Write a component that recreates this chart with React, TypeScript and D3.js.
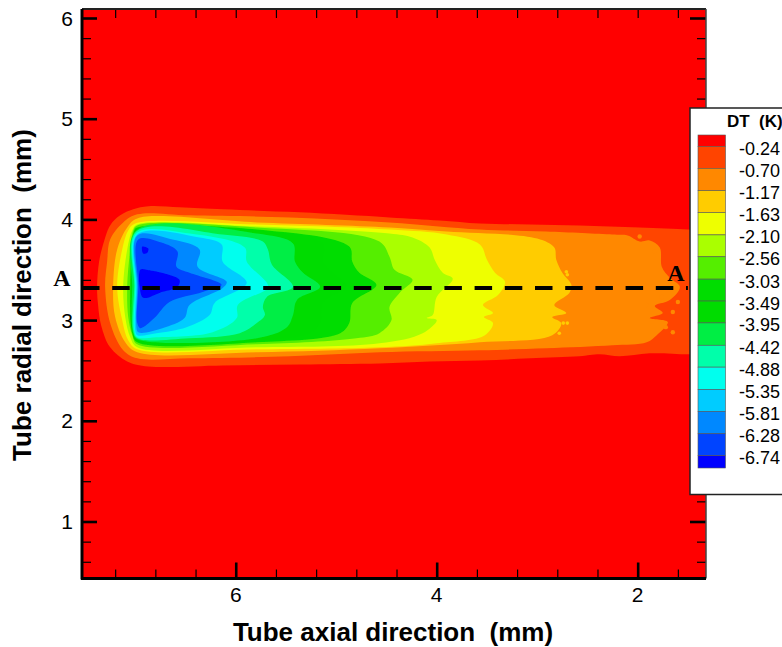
import React, { useEffect, useRef } from 'react';
import * as d3 from 'd3';

type Pt = [number, number];

const levels = [-0.24, -0.70, -1.17, -1.63, -2.10, -2.56, -3.03, -3.49, -3.95, -4.42, -4.88, -5.35, -5.81, -6.28, -6.74];
const bandColors = ['#ff0000', '#ff4400', '#ff8800', '#ffcc00', '#eeff00', '#aaff00', '#55ee00', '#00dd00', '#00dc00', '#00ee44', '#00ffaa', '#00ffee', '#00ccff', '#0088ff', '#0044ff', '#0000ff'];

const xMajor = [6, 4, 2];
const yMajor = [6, 5, 4, 3, 2, 1];
const xMinor = [7.2, 6.8, 6.4, 5.6, 5.2, 4.8, 4.4, 3.6, 3.2, 2.8, 2.4, 1.6];
const yMinor = [5.8, 5.6, 5.4, 5.2, 4.8, 4.6, 4.4, 4.2, 3.8, 3.6, 3.4, 3.2, 2.8, 2.6, 2.4, 2.2, 1.8, 1.6, 1.4, 1.2, 0.8, 0.6];

// section line A-A
const sectionY = 3.32;
const sectionX = [7.53, 1.5];

// contour outlines, [axial mm, radial mm]
const c024: Pt[] = [[7.38,3.33],[7.36,3.58],[7.32,3.75],[7.25,3.94],[7.15,4.04],[7.02,4.10],[6.87,4.13],[6.56,4.12],[6.13,4.10],[5.36,4.07],[4.47,4.02],[3.97,3.99],[3.57,3.96],[3.07,3.95],[2.58,3.94],[1.98,3.92],[1.50,3.90],[1.32,3.88],[1.32,2.66],[1.50,2.66],[1.88,2.67],[2.18,2.64],[2.38,2.66],[2.58,2.64],[3.07,2.62],[3.57,2.60],[4.07,2.59],[4.57,2.57],[5.36,2.56],[6.13,2.55],[6.87,2.54],[7.08,2.59],[7.25,2.73],[7.34,2.95],[7.37,3.15]];
const c070: Pt[] = [[7.30,3.33],[7.28,3.58],[7.25,3.80],[7.12,3.97],[6.98,4.05],[6.46,4.04],[5.46,4.02],[4.47,3.97],[3.57,3.90],[2.91,3.88],[2.25,3.85],[2.10,3.84],[1.98,3.78],[1.88,3.79],[1.78,3.72],[1.76,3.53],[1.68,3.42],[1.58,3.33],[1.68,3.20],[1.83,3.14],[1.75,3.07],[1.88,3.02],[1.70,2.98],[1.81,2.85],[1.91,2.78],[2.25,2.75],[2.91,2.72],[3.57,2.70],[4.57,2.68],[5.46,2.64],[6.46,2.62],[6.98,2.62],[7.12,2.70],[7.25,2.97]];
const c117: Pt[] = [[7.22,3.33],[7.18,3.70],[7.08,3.92],[6.98,4.01],[5.79,3.97],[4.47,3.92],[3.90,3.88],[3.00,3.81],[2.83,3.72],[2.81,3.60],[2.75,3.47],[2.66,3.35],[2.68,3.27],[2.83,3.15],[2.71,3.07],[2.85,3.03],[2.76,2.97],[2.85,2.85],[3.57,2.78],[4.57,2.72],[5.79,2.68],[6.98,2.68],[7.10,2.78],[7.20,3.03]];
const c163: Pt[] = [[7.18,3.33],[7.13,3.70],[7.07,3.89],[7.00,3.96],[5.79,3.95],[4.47,3.90],[3.90,3.85],[3.57,3.75],[3.50,3.60],[3.42,3.47],[3.32,3.38],[3.39,3.25],[3.54,3.15],[3.44,3.07],[3.53,3.03],[3.44,2.97],[3.52,2.85],[4.00,2.77],[4.57,2.73],[5.79,2.71],[6.98,2.71],[7.07,2.80],[7.13,3.00]];
const c210: Pt[] = [[7.12,3.33],[7.08,3.70],[7.03,3.89],[6.98,3.95],[5.79,3.93],[4.47,3.86],[4.24,3.82],[4.07,3.72],[4.02,3.60],[3.94,3.47],[3.84,3.41],[4.00,3.23],[4.04,3.05],[4.10,3.02],[4.00,3.00],[4.14,2.87],[4.57,2.77],[5.79,2.73],[6.98,2.73],[7.05,2.83],[7.10,3.03]];
const c256: Pt[] = [[7.08,3.33],[7.05,3.70],[7.02,3.89],[6.98,3.94],[5.79,3.92],[4.57,3.78],[4.47,3.63],[4.42,3.50],[4.24,3.40],[4.37,3.27],[4.47,3.13],[4.45,3.00],[4.57,2.87],[4.80,2.82],[5.79,2.76],[6.98,2.76],[7.03,2.85],[7.07,3.03]];
const c303: Pt[] = [[7.05,3.33],[7.01,3.89],[6.98,3.92],[5.79,3.90],[4.87,3.73],[4.84,3.58],[4.77,3.47],[4.60,3.35],[4.84,3.17],[4.87,2.97],[4.96,2.87],[5.79,2.78],[6.98,2.78],[7.03,2.87]];
const c349: Pt[] = [[7.04,3.33],[7.00,3.89],[6.98,3.91],[5.79,3.89],[5.13,3.76],[5.13,3.58],[5.03,3.47],[4.90,3.34],[5.13,3.17],[5.16,2.97],[5.26,2.87],[5.79,2.80],[6.98,2.79],[7.02,2.87]];
const c395: Pt[] = [[7.03,3.33],[6.99,3.89],[5.79,3.86],[5.43,3.76],[5.41,3.58],[5.33,3.47],[5.16,3.33],[5.39,3.20],[5.43,3.05],[5.49,2.93],[5.79,2.82],[6.98,2.81],[7.02,2.87]];
const c442: Pt[] = [[7.01,3.33],[6.99,3.88],[6.13,3.85],[5.73,3.78],[5.68,3.70],[5.64,3.55],[5.43,3.33],[5.69,3.23],[5.73,3.13],[5.71,3.05],[5.79,2.97],[5.96,2.87],[6.46,2.82],[6.98,2.82],[7.02,2.90]];
const c488: Pt[] = [[7.00,3.33],[6.99,3.86],[6.46,3.86],[5.91,3.72],[5.89,3.58],[5.69,3.37],[5.68,3.32],[5.98,3.15],[5.99,3.02],[6.23,2.88],[6.79,2.83],[6.98,2.83],[7.01,2.90]];
const c535: Pt[] = [[6.99,3.33],[6.98,3.85],[6.36,3.82],[6.14,3.75],[6.13,3.58],[5.89,3.37],[6.21,3.17],[6.26,3.05],[6.49,2.93],[6.79,2.87],[6.98,2.85],[7.00,2.90]];
const c581: Pt[] = [[6.98,3.33],[6.98,3.84],[6.63,3.80],[6.36,3.70],[6.38,3.53],[6.09,3.38],[6.13,3.32],[6.46,3.15],[6.51,3.02],[6.73,2.92],[6.97,2.88],[6.99,2.95]];
const c628: Pt[] = [[6.97,3.33],[6.97,3.80],[6.74,3.77],[6.58,3.68],[6.59,3.53],[6.46,3.47],[6.14,3.35],[6.33,3.28],[6.66,3.18],[6.81,3.02],[6.95,2.92],[6.98,2.97]];
const c674a: Pt[] = [[6.95,3.50],[6.89,3.50],[6.56,3.40],[6.58,3.33],[6.76,3.27],[6.89,3.22],[6.93,3.23]];
const c674b: Pt[] = [[6.93,3.73],[6.87,3.71],[6.88,3.67],[6.92,3.66]];

// loose islands along the ragged right fronts
const specks070: Pt[] = [[1.98,3.83],[1.83,3.68],[1.91,3.15],[1.65,3.08],[1.65,2.88],[1.76,3.23],[1.60,3.18],[1.72,2.93]];
const specks117: Pt[] = [[2.71,3.48],[2.85,3.53],[2.70,3.45],[2.78,2.87],[2.70,2.97],[2.74,2.97]];

const regions: Pt[][][] = [[c024], [c070], [c117], [c163], [c210], [c256], [c303], [c349], [c395], [c442], [c488], [c535], [c581], [c628], [c674a, c674b]];

const x = d3.scaleLinear().domain([7.53, 1.32]).range([82, 706]);
const y = d3.scaleLinear().domain([6, 1]).range([18, 521.5]);
const legendY = d3.scaleLinear().domain([0, -7]).range([135, 468]);

const bottomY = 578.5;
const topY = 9;
const sans = '"Liberation Sans", Arial, sans-serif';

export default function App() {
  const axesRef = useRef<SVGGElement>(null);

  useEffect(() => {
    const g = d3.select(axesRef.current);
    g.selectAll('*').remove();
    const yFull = d3.scaleLinear().domain([y.invert(bottomY), y.invert(topY)]).range([bottomY, topY]);
    const add = (axis: any, tx: number, ty: number, w: number) => {
      const a = g.append('g').attr('transform', `translate(${tx},${ty})`).call(axis);
      a.selectAll('.domain').remove();
      a.selectAll('line').attr('stroke', '#000').attr('stroke-width', w);
      a.selectAll('text').remove();
    };
    const left = (vals: number[], len: number) => d3.axisLeft(yFull).tickValues(vals).tickSizeInner(-len).tickSizeOuter(0);
    const right = (vals: number[], len: number) => d3.axisRight(yFull).tickValues(vals).tickSizeInner(-len).tickSizeOuter(0);
    const bottom = (vals: number[], len: number) => d3.axisBottom(x).tickValues(vals).tickSizeInner(-len).tickSizeOuter(0);
    const top = (vals: number[], len: number) => d3.axisTop(x).tickValues(vals).tickSizeInner(-len).tickSizeOuter(0);
    add(left(yMinor, 9), 82, 0, 1.2);
    add(left(yMajor, 15), 82, 0, 2.6);
    add(right(yMinor, 9), 706, 0, 1.2);
    add(right(yMajor, 16), 706, 0, 2.6);
    add(bottom(xMinor, 9), 0, bottomY, 1.2);
    add(bottom(xMajor, 16), 0, bottomY, 2.6);
    add(top(xMinor, 9), 0, topY, 1.2);
    add(top(xMajor, 9), 0, topY, 1.2);
  }, []);

  const outline = d3.line<Pt>().x(d => x(d[0])).y(d => y(d[1])).curve(d3.curveCatmullRomClosed.alpha(0.5));
  const bandEdges = [0, ...levels, -7];

  return (
    <svg width={782} height={647} style={{ position: 'absolute', left: 0, top: 0 }}>
      <defs>
        <filter id="soft" x="-2%" y="-2%" width="104%" height="104%">
          <feGaussianBlur stdDeviation="0.5" />
        </filter>
        <clipPath id="plot"><rect x={82} y={topY} width={624} height={bottomY - topY} /></clipPath>
      </defs>

      <rect x={82} y={topY} width={624} height={bottomY - topY} fill={bandColors[0]} />
      <g clipPath="url(#plot)">
        <g filter="url(#soft)">
          {regions.map((polys, i) => (
            <g key={i}>
              {polys.map((p, j) => <path key={j} d={outline(p) ?? ''} fill={bandColors[i + 1]} />)}
              {i === 1 && specks070.map((d, j) => <circle key={j} cx={x(d[0])} cy={y(d[1])} r={2.2} fill={bandColors[2]} />)}
              {i === 2 && specks117.map((d, j) => <circle key={j} cx={x(d[0])} cy={y(d[1])} r={1.8} fill={bandColors[3]} />)}
            </g>
          ))}
        </g>
      </g>

      <g ref={axesRef} />
      <line x1={82} x2={706} y1={topY} y2={topY} stroke="#222" strokeWidth={2} />
      <line x1={706} x2={706} y1={topY} y2={bottomY} stroke="#444" strokeWidth={1.5} />
      <line x1={82} x2={82} y1={topY} y2={bottomY + 1} stroke="#000" strokeWidth={3} />
      <line x1={81} x2={706} y1={bottomY} y2={bottomY} stroke="#000" strokeWidth={3} />

      <line x1={x(sectionX[0])} x2={x(sectionX[1])} y1={y(sectionY)} y2={y(sectionY)} stroke="#000" strokeWidth={4} strokeDasharray="17.5 12.7" />

      {yMajor.map(v => (
        <text key={v} x={73} y={y(v)} dy="0.36em" textAnchor="end" fontFamily={sans} fontSize={21}>{v}</text>
      ))}
      {xMajor.map(v => (
        <text key={v} x={x(v)} y={602} textAnchor="middle" fontFamily={sans} fontSize={21}>{v}</text>
      ))}
      <text x={393} y={641} textAnchor="middle" fontFamily={sans} fontSize={26} fontWeight="bold" style={{ whiteSpace: 'pre' }}>Tube axial direction  (mm)</text>
      <text transform="translate(31,295) rotate(-90)" textAnchor="middle" fontFamily={sans} fontSize={26} fontWeight="bold" style={{ whiteSpace: 'pre' }}>Tube radial direction  (mm)</text>

      <text x={62} y={286} textAnchor="middle" fontFamily='"Liberation Serif", serif' fontSize={24} fontWeight="bold">A</text>
      <text x={676} y={281} textAnchor="middle" fontFamily='"Liberation Serif", serif' fontSize={24} fontWeight="bold">A</text>

      <rect x={690} y={108} width={100} height={386.5} fill="#fff" stroke="#222" strokeWidth={1.5} />
      <text x={727} y={127} fontFamily={sans} fontSize={17} fontWeight="bold" style={{ whiteSpace: 'pre' }}>DT  (K)</text>
      {bandColors.map((c, i) => (
        <rect key={c} x={698} width={27.5} y={legendY(bandEdges[i])} height={legendY(bandEdges[i + 1]) - legendY(bandEdges[i])} fill={c} stroke="#555" strokeWidth={0.6} />
      ))}
      {levels.map(v => (
        <text key={v} x={739} y={legendY(v) + 2} dy="0.36em" fontFamily={sans} fontSize={18}>{v.toFixed(2)}</text>
      ))}
    </svg>
  );
}
